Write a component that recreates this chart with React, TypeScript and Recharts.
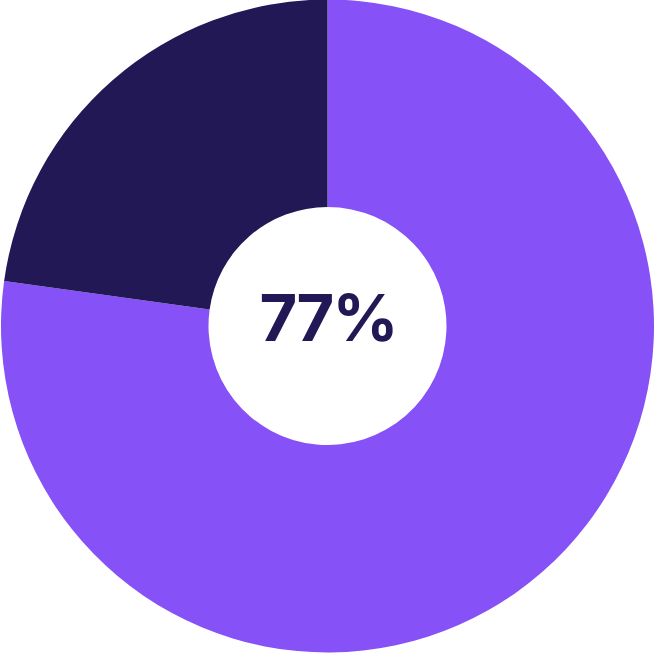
import React from "react";
import { PieChart, Pie, Cell } from "recharts";

const labels = ["Yes", "No"];
const values = [77.2, 22.8];
const colors = ["#8651F6", "#231856"];
const centerLabel = "77%";

const data = labels.map((name, i) => ({ name, value: values[i] }));

export default function App() {
  return (
    <div style={{ position: "fixed", left: 0, top: 0, width: 655, height: 655, background: "#fff" }}>
      <PieChart width={655} height={655} margin={{ top: 0, right: 0, bottom: 0, left: 0 }}>
        <Pie
          data={data}
          dataKey="value"
          nameKey="name"
          cx={327.5}
          cy={326}
          innerRadius={119}
          outerRadius={326.5}
          startAngle={90}
          endAngle={-270}
          stroke="none"
          isAnimationActive={false}
        >
          {data.map((d, i) => (
            <Cell key={d.name} fill={colors[i]} />
          ))}
        </Pie>
        <text
          x={328}
          y={317}
          textAnchor="middle"
          dominantBaseline="central"
          fontFamily="Inter, sans-serif"
          fontWeight={700}
          fontSize={65}
          letterSpacing={-2}
          fill="#231856"
        >
          {centerLabel}
        </text>
      </PieChart>
    </div>
  );
}
